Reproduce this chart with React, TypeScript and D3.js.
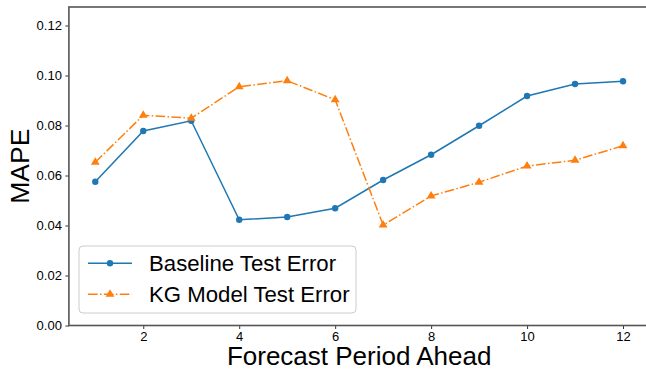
import React, { useEffect, useRef } from "react";
import * as d3 from "d3";

const periods = [1, 2, 3, 4, 5, 6, 7, 8, 9, 10, 11, 12];
const baselineError = [0.0575, 0.0778, 0.0819, 0.0423, 0.0434, 0.0469, 0.0582, 0.0683, 0.0799, 0.0918, 0.0966, 0.0977];
const kgError = [0.0653, 0.0841, 0.0829, 0.0955, 0.0979, 0.0903, 0.0402, 0.0518, 0.0573, 0.0638, 0.0661, 0.0719];
const yTicks = [0, 0.02, 0.04, 0.06, 0.08, 0.1, 0.12];
const xTicks = [2, 4, 6, 8, 10, 12];
const seriesNames = ["Baseline Test Error", "KG Model Test Error"];

const FONT = "'Liberation Sans', Arial, sans-serif";

function App() {
  const ref = useRef<SVGSVGElement>(null);

  useEffect(() => {
    const svg = d3.select(ref.current);
    svg.selectAll("*").remove();

    const left = 68.9, right = 649.4, top = 7, bottom = 325.5;
    const x = d3.scaleLinear().domain([0.45, 12.55]).range([left, right]);
    const y = d3.scaleLinear().domain([0, 0.1274]).range([bottom, top]);

    // axes
    const xg = svg.append("g").attr("transform", `translate(0,${bottom})`)
      .call(d3.axisBottom(x).tickValues(xTicks).tickFormat(d3.format("d")).tickSizeOuter(0).tickSize(3.5).tickPadding(3));
    const yg = svg.append("g").attr("transform", `translate(${left},0)`)
      .call(d3.axisLeft(y).tickValues(yTicks).tickFormat(d3.format(".2f")).tickSizeOuter(0).tickSize(3.5).tickPadding(3.5));
    [xg, yg].forEach(g => {
      g.select(".domain").remove();
      g.selectAll("line").attr("stroke", "#000").attr("stroke-width", 0.8);
      g.selectAll("text").attr("font-family", FONT).attr("font-size", 13).attr("fill", "#000");
    });

    // spines
    svg.append("rect").attr("x", left).attr("y", top).attr("width", right - left).attr("height", bottom - top)
      .attr("fill", "none").attr("stroke", "#555").attr("stroke-width", 1.6);

    const line = d3.line<number>().x((_, i) => x(periods[i])).y(d => y(d));

    svg.append("path").datum(baselineError).attr("d", line)
      .attr("fill", "none").attr("stroke", "#1f77b4").attr("stroke-width", 1.5);
    svg.append("g").selectAll("circle").data(baselineError).join("circle")
      .attr("cx", (_, i) => x(periods[i])).attr("cy", d => y(d)).attr("r", 3.2).attr("fill", "#1f77b4");

    svg.append("path").datum(kgError).attr("d", line)
      .attr("fill", "none").attr("stroke", "#ff7f0e").attr("stroke-width", 1.5)
      .attr("stroke-dasharray", "9.6,2.4,1.5,2.4");
    const tri = d3.symbol().type(d3.symbolTriangle).size(34);
    svg.append("g").selectAll("path").data(kgError).join("path")
      .attr("d", tri).attr("transform", (d, i) => `translate(${x(periods[i])},${y(d)})`)
      .attr("fill", "#ff7f0e");

    // legend
    const lg = svg.append("g");
    lg.append("rect").attr("x", 79).attr("y", 246).attr("width", 277).attr("height", 67).attr("rx", 4)
      .attr("fill", "#fff").attr("fill-opacity", 0.8).attr("stroke", "#ccc").attr("stroke-width", 1);
    const rows = [263.3, 294.3];
    lg.append("line").attr("x1", 88).attr("x2", 132).attr("y1", rows[0]).attr("y2", rows[0])
      .attr("stroke", "#1f77b4").attr("stroke-width", 1.5);
    lg.append("circle").attr("cx", 110).attr("cy", rows[0]).attr("r", 3.2).attr("fill", "#1f77b4");
    lg.append("line").attr("x1", 88).attr("x2", 132).attr("y1", rows[1]).attr("y2", rows[1])
      .attr("stroke", "#ff7f0e").attr("stroke-width", 1.5).attr("stroke-dasharray", "9.6,2.4,1.5,2.4");
    lg.append("path").attr("d", tri).attr("transform", `translate(110,${rows[1]})`).attr("fill", "#ff7f0e");
    seriesNames.forEach((name, i) => {
      lg.append("text").attr("x", 149).attr("y", rows[i]).attr("dy", "0.36em")
        .attr("font-family", FONT).attr("font-size", 22.2).attr("fill", "#000").text(name);
    });

    // axis labels
    svg.append("text").attr("x", (left + right) / 2).attr("y", 365)
      .attr("text-anchor", "middle").attr("font-family", FONT).attr("font-size", 26).text("Forecast Period Ahead");
    svg.append("text").attr("transform", `translate(29,${(top + bottom) / 2}) rotate(-90)`)
      .attr("text-anchor", "middle").attr("font-family", FONT).attr("font-size", 26.5).text("MAPE");
  }, []);

  return (
    <svg ref={ref} width={646} height={369} style={{ position: "absolute", left: 0, top: 0, background: "#fff" }} />
  );
}

export default App;
